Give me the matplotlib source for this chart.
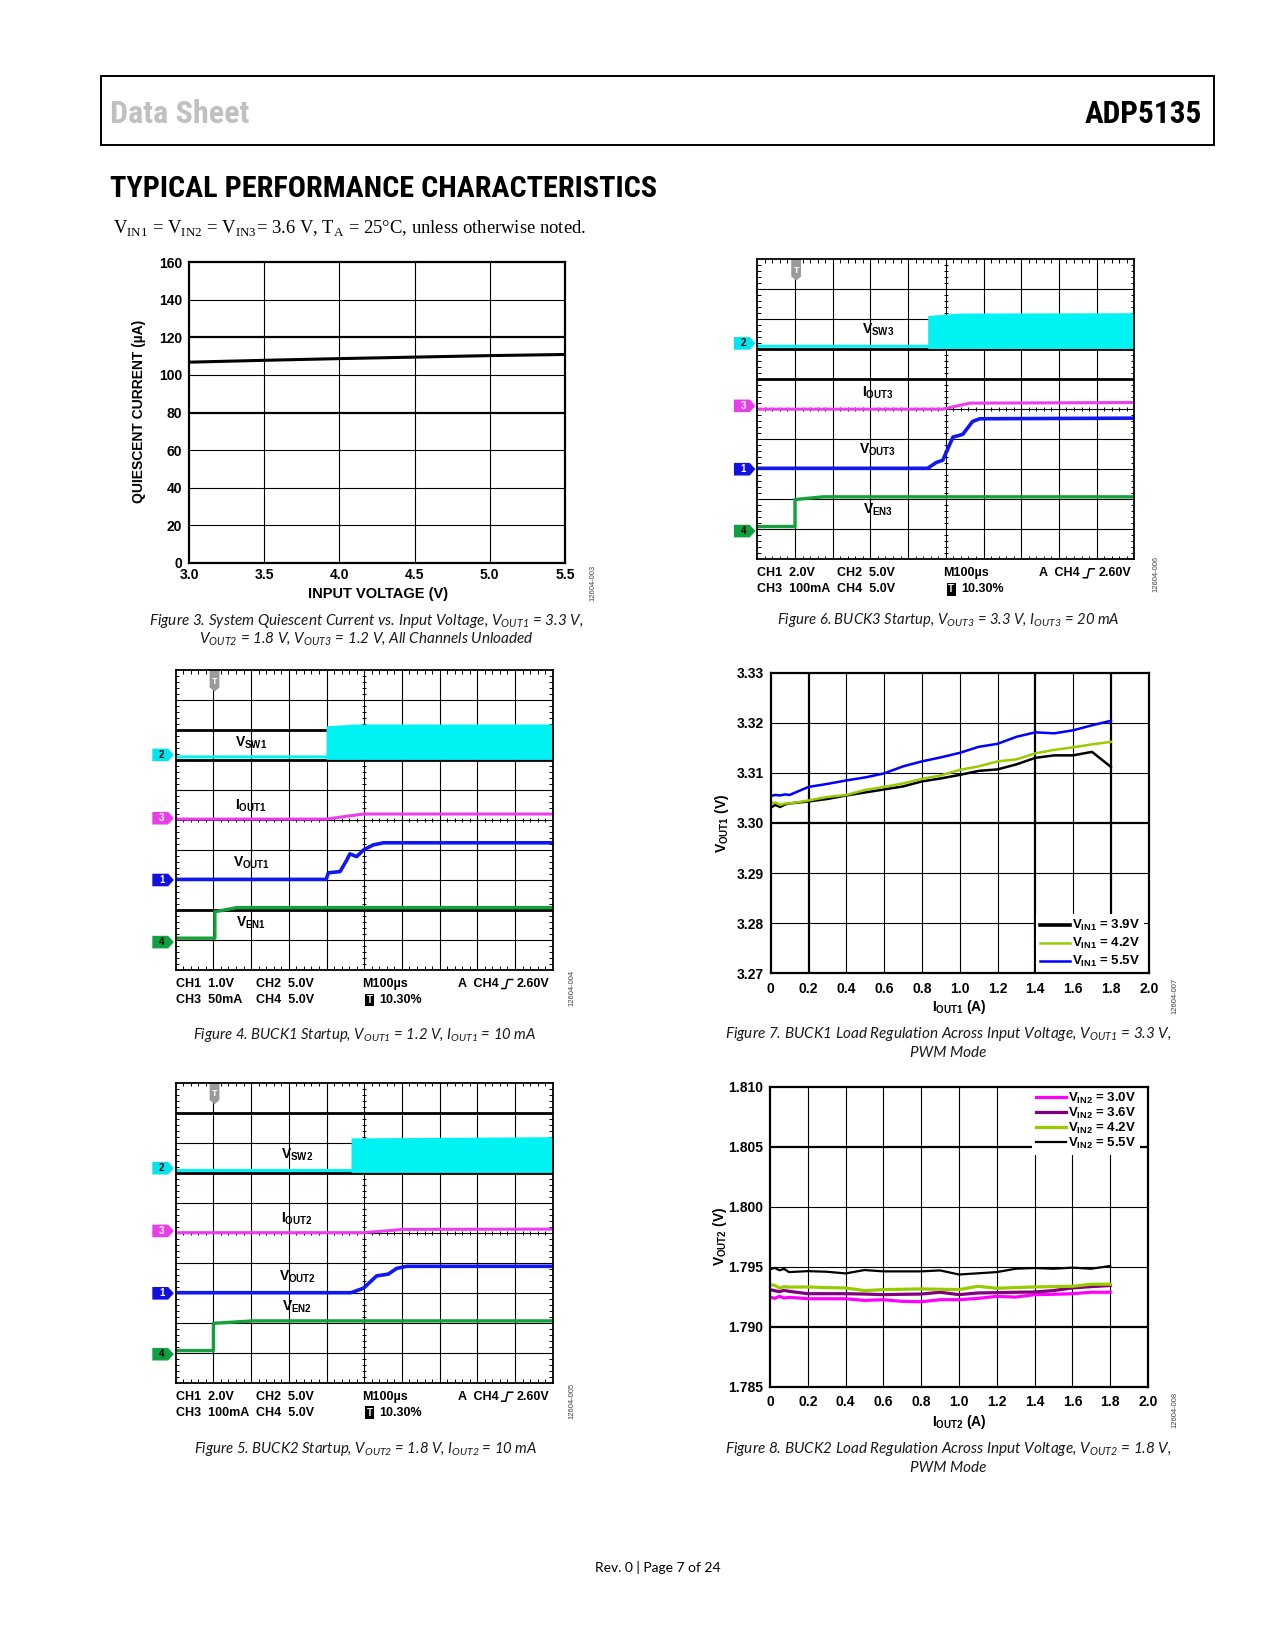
import numpy as np
import matplotlib
matplotlib.use('Agg')
import matplotlib.pyplot as plt
from matplotlib import font_manager
from matplotlib.patches import Polygon, Rectangle
from matplotlib.lines import Line2D

W, H = 1275, 1650

ARIAL = 'Liberation Sans'
ITAL = 'Lato'
SERIF = 'Liberation Serif'
_have = {f.name for f in font_manager.fontManager.ttflist}
CONDENSED = next((n for n in ['Roboto Condensed', 'Liberation Sans Narrow', 'Open Sans Condensed',
                              'DejaVu Sans Condensed'] if n in _have), ARIAL)

# ---------------- Figure 3: quiescent current vs input voltage
vin_v = [3.0, 3.5, 4.0, 4.5, 5.0, 5.5]
iq_ua = [106.8, 107.8, 108.7, 109.5, 110.3, 110.9]

# ---------------- Figure 7: BUCK1 load regulation
iout1_a = [0, 0.025, 0.05, 0.075, 0.1, 0.2, 0.3, 0.4, 0.5, 0.6, 0.7, 0.8,
           0.9, 1.0, 1.1, 1.2, 1.3, 1.4, 1.5, 1.6, 1.7, 1.8]
vout1_39 = [3.3031, 3.3036, 3.3032, 3.3037, 3.3039, 3.3043, 3.3048, 3.3055, 3.3061, 3.3067, 3.3073,
            3.3083, 3.3089, 3.3096, 3.3104, 3.3107, 3.3117, 3.3130, 3.3135, 3.3135, 3.3142, 3.3112]
vout1_42 = [3.3039, 3.3041, 3.3036, 3.3039, 3.3039, 3.3045, 3.3052, 3.3056, 3.3066, 3.3072, 3.3079,
            3.3088, 3.3095, 3.3106, 3.3113, 3.3123, 3.3127, 3.3139, 3.3146, 3.3151, 3.3157, 3.3162]
vout1_55 = [3.3054, 3.3056, 3.3055, 3.3057, 3.3056, 3.3072, 3.3078, 3.3085, 3.3091, 3.3099, 3.3113,
            3.3123, 3.3131, 3.3140, 3.3152, 3.3158, 3.3172, 3.3181, 3.3179, 3.3185, 3.3195, 3.3204]

# ---------------- Figure 8: BUCK2 load regulation
iout2_a = iout1_a
vout2_30 = [1.79247, 1.79236, 1.79253, 1.79239, 1.79245, 1.79233, 1.79233, 1.79233, 1.79219, 1.79225, 1.79211,
            1.79208, 1.79225, 1.79225, 1.79236, 1.79253, 1.79247, 1.79267, 1.79270, 1.79275, 1.79287, 1.79287]
vout2_36 = [1.79309, 1.79300, 1.79292, 1.79303, 1.79295, 1.79275, 1.79275, 1.79275, 1.79272, 1.79267, 1.79270,
            1.79272, 1.79287, 1.79267, 1.79281, 1.79284, 1.79287, 1.79289, 1.79301, 1.79323, 1.79334, 1.79343]
vout2_42 = [1.79351, 1.79345, 1.79322, 1.79334, 1.79330, 1.79331, 1.79326, 1.79323, 1.79301, 1.79309, 1.79312,
            1.79315, 1.79312, 1.79309, 1.79337, 1.79320, 1.79326, 1.79331, 1.79334, 1.79337, 1.79354, 1.79354]
vout2_55 = [1.79478, 1.79490, 1.79470, 1.79482, 1.79455, 1.79463, 1.79458, 1.79444, 1.79472, 1.79461, 1.79461,
            1.79461, 1.79469, 1.79435, 1.79445, 1.79455, 1.79483, 1.79489, 1.79483, 1.79492, 1.79483, 1.79506]

# ---------------- scope shots (time and level in screen divisions)
# Figure 4, BUCK1
f4_sw_t = [0, 3.99, 3.99, 4.8, 10]
f4_sw_lo = [7.07, 7.07, 7.02, 7.02, 7.02]
f4_sw_hi = [7.17, 7.17, 8.14, 8.2, 8.2]
f4_i_t = [0, 4.0, 4.45, 4.98, 10]
f4_i_v = [5.03, 5.03, 5.11, 5.2, 5.2]
f4_vo_t = [0, 3.99, 4.05, 4.36, 4.54, 4.62, 4.80, 4.98, 5.24, 5.51, 10]
f4_vo_v = [3.02, 3.02, 3.24, 3.28, 3.67, 3.87, 3.78, 4.0, 4.17, 4.24, 4.24]
f4_en_t = [0, 1.04, 1.04, 1.62, 10]
f4_en_v = [1.06, 1.06, 1.94, 2.08, 2.08]
# Figure 5, BUCK2
f5_sw_t = [0, 4.65, 4.65, 10]
f5_sw_lo = [7.04, 7.04, 7.01, 7.01]
f5_sw_hi = [7.14, 7.14, 8.16, 8.2]
f5_i_t = [0, 4.98, 6.04, 10]
f5_i_v = [5.0, 5.0, 5.11, 5.12]
f5_vo_t = [0, 4.65, 4.98, 5.33, 5.64, 5.86, 6.13, 10]
f5_vo_v = [3.0, 3.0, 3.15, 3.56, 3.62, 3.81, 3.88, 3.88]
f5_en_t = [0, 1.0, 1.0, 2.06, 10]
f5_en_v = [1.07, 1.07, 1.98, 2.06, 2.06]
# Figure 6, BUCK3
f6_sw_t = [0, 4.52, 4.52, 5.4, 10]
f6_sw_lo = [7.06, 7.06, 7.02, 7.02, 7.02]
f6_sw_hi = [7.16, 7.16, 8.12, 8.2, 8.21]
f6_i_t = [0, 4.92, 5.63, 10]
f6_i_v = [5.0, 5.0, 5.2, 5.22]
f6_vo_t = [0, 4.52, 4.74, 4.92, 5.19, 5.45, 5.71, 5.9, 10]
f6_vo_v = [3.03, 3.03, 3.22, 3.3, 4.07, 4.16, 4.59, 4.68, 4.70]
f6_en_t = [0, 1.0, 1.0, 1.75, 10]
f6_en_v = [1.09, 1.09, 1.99, 2.08, 2.08]

CYAN, MAG, BLUE, GREEN = '#00f2f2', '#ec3eec', '#1018f0', '#14a03a'

fig = plt.figure(figsize=(W / 100, H / 100), dpi=100)
renderer = fig.canvas.get_renderer()


def px_rect(l, t, r, b):
    return [l / W, 1 - b / H, (r - l) / W, (b - t) / H]


def ftext(x, y, s, **kw):
    return fig.text(x / W, 1 - y / H, s, **kw)


def fit_width(txt, target):
    # shrink a header text so its width is close to the printed one
    w = txt.get_window_extent(renderer).width
    if w > target:
        txt.set_fontsize(txt.get_fontsize() * target / w)


def sub(a, b):
    return a + r'$_{\mathregular{' + b + '}}$'


# ---------------- page header
fig.add_artist(Rectangle((101 / W, 1 - 145 / H), (1214 - 101) / W, (145 - 76) / H,
                         transform=fig.transFigure, fill=False, lw=1.4, ec='black'))
t = ftext(110, 122.7, 'Data Sheet', family=CONDENSED, weight='bold', size=23.5, color='#c0c0c0', va='baseline')
fit_width(t, 139)
t = ftext(1202, 122.7, 'ADP5135', family=CONDENSED, weight='bold', size=22.5, color='black', va='baseline',
          ha='right')
fit_width(t, 118)
t = ftext(110, 196.7, 'TYPICAL PERFORMANCE CHARACTERISTICS', family=CONDENSED, weight='bold', size=22.5,
          va='baseline')
fit_width(t, 545)
ftext(113, 234, sub('V', 'IN1') + ' = ' + sub('V', 'IN2') + ' = ' + sub('V', 'IN3') +
      '= 3.6 V, ' + sub('T', 'A') + ' = 25°C, unless otherwise noted.', family=SERIF, size=13.4, va='baseline')
ftext(657.5, 1567, 'Rev. 0 | Page 7 of 24', family=ITAL, size=10, ha='center', va='center')


def caption(x, ys, lines, size=11):
    for y, s in zip(ys, lines):
        ftext(x, y, s, family=ITAL, style='italic', size=size, ha='center', va='center', color='#1a1a1a')


def fig_id(x, y, s):
    ftext(x, y, s, family=ARIAL, size=5.5, rotation=90, ha='center', va='center', color='#444444')


def style_xy(ax, xticks, xlabels, yticks, ylabels, thick_x, thick_y, pad_x, pad_y):
    ax.set_xticks(xticks)
    ax.set_xticklabels(xlabels, fontfamily=ARIAL, fontweight='bold', fontsize=10)
    ax.set_yticks(yticks)
    ax.set_yticklabels(ylabels, fontfamily=ARIAL, fontweight='bold', fontsize=10)
    ax.tick_params(length=0)
    ax.tick_params(axis='x', pad=pad_x)
    ax.tick_params(axis='y', pad=pad_y)
    for v in xticks[1:-1]:
        ax.axvline(v, color='black', lw=1.6 if v in thick_x else 0.8, zorder=1)
    for v in yticks[1:-1]:
        ax.axhline(v, color='black', lw=1.6 if v in thick_y else 0.8, zorder=1)
    for sp in ax.spines.values():
        sp.set_linewidth(1.6)
        sp.set_zorder(8)


# ---------------- Figure 3
ax3 = fig.add_axes(px_rect(189, 262.3, 565, 562.7))
ax3.plot(vin_v, iq_ua, color='black', lw=2.2, zorder=3)
ax3.set_xlim(3.0, 5.5)
ax3.set_ylim(0, 160)
xt3 = [3.0, 3.5, 4.0, 4.5, 5.0, 5.5]
yt3 = list(range(0, 161, 20))
style_xy(ax3, xt3, ['%.1f' % v for v in xt3], yt3, [str(v) for v in yt3], [], [80, 120], 4, 5)
ax3.set_xlabel('INPUT VOLTAGE (V)', fontfamily=ARIAL, fontweight='bold', fontsize=10.5, va='center')
ax3.xaxis.set_label_coords(377.7 / W, 1 - 594 / H, transform=fig.transFigure)
ax3.set_ylabel('QUIESCENT CURRENT (µA)', fontfamily=ARIAL, fontweight='bold', fontsize=10, va='center')
ax3.yaxis.set_label_coords(139 / W, 1 - 411.7 / H, transform=fig.transFigure)
caption(366.5, [621, 639], [r'Figure 3. System Quiescent Current vs. Input Voltage, ' + sub('V', 'OUT1') + ' = 3.3 V,',
                            sub('V', 'OUT2') + ' = 1.8 V, ' + sub('V', 'OUT3') + ' = 1.2 V, All Channels Unloaded'])
fig_id(593, 583, '12604-003')


# ---------------- scope shots
def draw_scope(ax, rect, sw, cur, vo, en, marks, names, name_x, name_y, thick_rows, ch1, ch3):
    l, t, r, b = rect
    ax.set_xlim(0, 10)
    ax.set_ylim(0, 10)
    ax.set_xticks([])
    ax.set_yticks([])
    for sp in ax.spines.values():
        sp.set_linewidth(1.3)
        sp.set_zorder(8)
    for k in range(1, 10):
        ax.axvline(k, color='black', lw=0.8, zorder=1)
        ax.axhline(k, color='black', lw=2.0 if k in thick_rows else 0.8, zorder=1)
    minor = np.arange(0.2, 10, 0.2)
    tk = dict(color='black', lw=0.7, zorder=1)
    ax.vlines(minor, 0, 0.12, **tk)
    ax.vlines(minor, 9.88, 10, **tk)
    ax.hlines(minor, 0, 0.1, **tk)
    ax.hlines(minor, 9.9, 10, **tk)
    ax.vlines(minor, 4.93, 5.07, **tk)
    ax.hlines(minor, 4.94, 5.06, **tk)

    ax.fill_between(sw[0], sw[1], sw[2], color=CYAN, lw=0, zorder=3)
    ax.plot(cur[0], cur[1], color=MAG, lw=2.2, zorder=3)
    ax.plot(vo[0], vo[1], color=BLUE, lw=2.6, zorder=4)
    ax.plot(en[0], en[1], color=GREEN, lw=2.4, zorder=3)

    for s, y in zip(names, name_y):
        ax.text(name_x, y, s, family=ARIAL, weight='bold', size=10, ha='center', va='center', zorder=6)

    # channel markers
    for (num, col, tc), y in zip([('2', '#00e5ee', 'black'), ('3', '#e83ee8', 'white'),
                                  ('1', '#1010e0', 'white'), ('4', '#10a040', 'black')], marks):
        ax.add_patch(Polygon([(-0.62, y - 0.21), (-0.2, y - 0.21), (-0.05, y), (-0.2, y + 0.21),
                              (-0.62, y + 0.21)], closed=True, fc=col, ec='none', clip_on=False))
        ax.text(-0.37, y, num, family=ARIAL, weight='bold', size=7, color=tc, ha='center', va='center',
                clip_on=False)
    # trigger marker
    cx = 1.03
    ax.add_patch(Polygon([(cx - 0.13, 10), (cx + 0.13, 10), (cx + 0.13, 9.42), (cx, 9.28), (cx - 0.13, 9.42)],
                         closed=True, fc='#9a9a9a', ec='none', zorder=7))
    ax.text(cx, 9.63, 'T', family=ARIAL, weight='bold', size=6.5, color='white', ha='center', va='center',
            zorder=7)

    # readout under the screen
    r1, r2 = b + 14, b + 30
    kw = dict(family=ARIAL, weight='bold', size=9, va='center')
    ftext(l, r1, 'CH1  ' + ch1, **kw)
    ftext(l + 80, r1, 'CH2  5.0V', **kw)
    ftext(l + 186, r1, 'M100µs', **kw)
    ftext(l + 282, r1, 'A  CH4', **kw)
    ex = l + 326
    fig.add_artist(Line2D([ex / W, (ex + 4) / W, (ex + 6) / W, (ex + 11) / W],
                          [1 - (r1 + 4.5) / H, 1 - (r1 + 4.5) / H, 1 - (r1 - 4.5) / H, 1 - (r1 - 4.5) / H],
                          transform=fig.transFigure, color='black', lw=1.1))
    ftext(l + 341, r1, '2.60V', **kw)
    ftext(l, r2, 'CH3  ' + ch3, **kw)
    ftext(l + 80, r2, 'CH4  5.0V', **kw)
    ftext(l + 194, r2, 'T', family=ARIAL, weight='bold', size=7, color='white', ha='center', va='center',
          bbox=dict(boxstyle='square,pad=0.15', fc='black', ec='none'))
    ftext(l + 204, r2, '10.30%', **kw)


r4 = (175.7, 670, 552.7, 970)
ax4 = fig.add_axes(px_rect(*r4))
draw_scope(ax4, r4, (f4_sw_t, f4_sw_lo, f4_sw_hi), (f4_i_t, f4_i_v), (f4_vo_t, f4_vo_v), (f4_en_t, f4_en_v),
           [7.17, 5.06, 3.0, 0.93],
           [sub('V', 'SW1'), sub('I', 'OUT1'), sub('V', 'OUT1'), sub('V', 'EN1')],
           2.0, [7.56, 5.47, 3.57, 1.57], [8, 7, 2], '1.0V', '50mA')
caption(365, [1035], [r'Figure 4. BUCK1 Startup, ' + sub('V', 'OUT1') + ' = 1.2 V, ' + sub('I', 'OUT1') + ' = 10 mA'],
        size=10.7)
fig_id(572, 988, '12604-004')

r5 = (175.7, 1082.7, 552.7, 1382.7)
ax5 = fig.add_axes(px_rect(*r5))
draw_scope(ax5, r5, (f5_sw_t, f5_sw_lo, f5_sw_hi), (f5_i_t, f5_i_v), (f5_vo_t, f5_vo_v), (f5_en_t, f5_en_v),
           [7.15, 5.06, 2.98, 0.95],
           [sub('V', 'SW2'), sub('I', 'OUT2'), sub('V', 'OUT2'), sub('V', 'EN2')],
           3.22, [7.59, 5.48, 3.53, 2.53], [9, 7], '2.0V', '100mA')
caption(366, [1449], [r'Figure 5. BUCK2 Startup, ' + sub('V', 'OUT2') + ' = 1.8 V, ' + sub('I', 'OUT2') + ' = 10 mA'],
        size=10.7)
fig_id(572, 1401, '12604-005')

r6 = (757.3, 259, 1134.3, 559.3)
ax6 = fig.add_axes(px_rect(*r6))
draw_scope(ax6, r6, (f6_sw_t, f6_sw_lo, f6_sw_hi), (f6_i_t, f6_i_v), (f6_vo_t, f6_vo_v), (f6_en_t, f6_en_v),
           [7.19, 5.11, 3.0, 0.94],
           [sub('V', 'SW3'), sub('I', 'OUT3'), sub('V', 'OUT3'), sub('V', 'EN3')],
           3.2, [7.64, 5.54, 3.64, 1.64], [7, 6], '2.0V', '100mA')
caption(948, [620], [r'Figure 6. BUCK3 Startup, ' + sub('V', 'OUT3') + ' = 3.3 V, ' + sub('I', 'OUT3') + ' = 20 mA'],
        size=10.7)
fig_id(1156, 574, '12604-006')

LEG = dict(prop=dict(family=ARIAL, weight='bold', size=9.5), handlelength=2.3, handletextpad=0.15,
           borderaxespad=0, borderpad=0.3, frameon=True, fancybox=False, framealpha=1,
           facecolor='white', edgecolor='none')

# ---------------- Figure 7
ax7 = fig.add_axes(px_rect(770.7, 672.7, 1148.7, 973.3))
ax7.plot(iout1_a, vout1_39, color='black', lw=1.8, zorder=3, label=sub('V', 'IN1') + ' = 3.9V')
ax7.plot(iout1_a, vout1_42, color='#99cc00', lw=1.8, zorder=3, label=sub('V', 'IN1') + ' = 4.2V')
ax7.plot(iout1_a, vout1_55, color='#0000ff', lw=1.8, zorder=3, label=sub('V', 'IN1') + ' = 5.5V')
ax7.set_xlim(0, 2.0)
ax7.set_ylim(3.27, 3.33)
xt7 = [0, 0.2, 0.4, 0.6, 0.8, 1.0, 1.2, 1.4, 1.6, 1.8, 2.0]
xl7 = ['0'] + ['%.1f' % v for v in xt7[1:]]
yt7 = [3.27, 3.28, 3.29, 3.30, 3.31, 3.32, 3.33]
style_xy(ax7, xt7, xl7, yt7, ['%.2f' % v for v in yt7], [0.2, 1.4, 1.8], [3.30], 6, 5)
leg7 = ax7.legend(loc='lower left', bbox_to_anchor=((1036 - 770.7) / 378, 0), labelspacing=0.22, **LEG)
leg7.set_zorder(5)
leg7.get_lines()[0].set_linewidth(2.6)
ax7.set_xlabel(sub('I', 'OUT1') + ' (A)', fontfamily=ARIAL, fontweight='bold', fontsize=10, va='center')
ax7.xaxis.set_label_coords(959.7 / W, 1 - 1006.7 / H, transform=fig.transFigure)
ax7.set_ylabel(sub('V', 'OUT1') + ' (V)', fontfamily=ARIAL, fontweight='bold', fontsize=10, va='center')
ax7.yaxis.set_label_coords(721.7 / W, 1 - 823.3 / H, transform=fig.transFigure)
caption(948, [1034, 1053], [r'Figure 7. BUCK1 Load Regulation Across Input Voltage, ' + sub('V', 'OUT1') + ' = 3.3 V,',
                            'PWM Mode'])
fig_id(1175, 996, '12604-007')

# ---------------- Figure 8
ax8 = fig.add_axes(px_rect(770, 1086.7, 1148, 1386.7))
ax8.plot(iout2_a, vout2_30, color='#ff00ff', lw=2.3, zorder=3, label=sub('V', 'IN2') + ' = 3.0V')
ax8.plot(iout2_a, vout2_36, color='#800080', lw=2.3, zorder=3, label=sub('V', 'IN2') + ' = 3.6V')
ax8.plot(iout2_a, vout2_42, color='#99cc00', lw=2.3, zorder=3, label=sub('V', 'IN2') + ' = 4.2V')
ax8.plot(iout2_a, vout2_55, color='black', lw=1.6, zorder=3, label=sub('V', 'IN2') + ' = 5.5V')
ax8.set_xlim(0, 2.0)
ax8.set_ylim(1.785, 1.810)
yt8 = [1.785, 1.790, 1.795, 1.800, 1.805, 1.810]
style_xy(ax8, xt7, xl7, yt8, ['%.3f' % v for v in yt8], [], [1.790, 1.805], 6, 5)
leg8 = ax8.legend(loc='upper left', bbox_to_anchor=((1031.7 - 770) / 378, 1.0), labelspacing=0.0, **LEG)
leg8.set_zorder(5)
ax8.set_xlabel(sub('I', 'OUT2') + ' (A)', fontfamily=ARIAL, fontweight='bold', fontsize=10, va='center')
ax8.xaxis.set_label_coords(959 / W, 1 - 1422 / H, transform=fig.transFigure)
ax8.set_ylabel(sub('V', 'OUT2') + ' (V)', fontfamily=ARIAL, fontweight='bold', fontsize=10, va='center')
ax8.yaxis.set_label_coords(720 / W, 1 - 1236.7 / H, transform=fig.transFigure)
caption(948, [1449, 1468], [r'Figure 8. BUCK2 Load Regulation Across Input Voltage, ' + sub('V', 'OUT2') + ' = 1.8 V,',
                            'PWM Mode'])
fig_id(1175, 1410, '12604-008')

fig.savefig('out.png', dpi=100, facecolor='white')
